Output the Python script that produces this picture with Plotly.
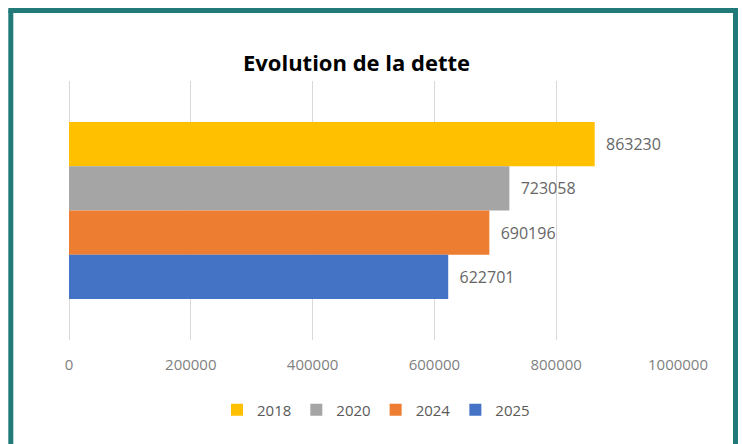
import plotly.graph_objects as go

series = ["2018", "2020", "2024", "2025"]
values = [863230, 723058, 690196, 622701]
colors = ["#FFC000", "#A5A5A5", "#ED7D31", "#4472C4"]
category = ["Dette"]
tick_vals = [0, 200000, 400000, 600000, 800000, 1000000]
tick_text = ["0", "200000", "400000", "600000", "800000", "1000000"]

fig = go.Figure()
for name, v, c in zip(series, values, colors):
    fig.add_trace(go.Bar(
        name=name, x=[v], y=category, orientation="h",
        marker=dict(color=c, line=dict(width=0)),
        text=["\u00a0\u00a0" + str(v)], textposition="outside",
        textfont=dict(family="Open Sans", size=16, color="#666666"),
        cliponaxis=False,
    ))

L, R, T, B = 69, 64, 81, 104
W, H = 742, 444
pw, ph = W - L - R, H - T - B

def px(x):
    return (x - L) / pw

def py(y):
    return (H - B - y) / ph

teal = "#217A78"
fig.add_shape(type="line", xref="paper", yref="paper", x0=px(10.8), x1=px(10.8), y0=py(460), y1=py(10.5),
              line=dict(color=teal, width=5), layer="above")
fig.add_shape(type="line", xref="paper", yref="paper", x0=px(735.5), x1=px(735.5), y0=py(460), y1=py(10.5),
              line=dict(color=teal, width=5), layer="above")
fig.add_shape(type="line", xref="paper", yref="paper", x0=px(8.3), x1=px(738), y0=py(10.5), y1=py(10.5),
              line=dict(color=teal, width=5), layer="above")

fig.update_layout(
    width=W, height=H,
    margin=dict(l=L, r=R, t=T, b=B),
    paper_bgcolor="white", plot_bgcolor="white",
    barmode="group", bargap=0.317, bargroupgap=0,
    title=dict(text="<b>Evolution de la dette</b>", x=px(356.5), xref="paper", xanchor="center",
               y=1 - 63 / H, yref="container", yanchor="middle",
               font=dict(family="Open Sans", size=22, color="#000000")),
    xaxis=dict(range=[0, 1000000], tickvals=tick_vals, ticktext=tick_text,
               showgrid=True, gridcolor="#D9D9D9", gridwidth=1,
               zeroline=True, zerolinecolor="#D9D9D9", zerolinewidth=1,
               showline=False, ticks="", ticklabelstandoff=14,
               tickfont=dict(family="Open Sans", size=15, color="#7F7F7F")),
    yaxis=dict(autorange="reversed", showticklabels=False, showgrid=False,
               zeroline=False, showline=False, ticks=""),
    legend=dict(orientation="h", x=px(376), xanchor="center", y=py(410), yanchor="middle",
                font=dict(family="Open Sans", size=15, color="#595959"),
                itemwidth=30,
                bgcolor="rgba(0,0,0,0)"),
    showlegend=True,
)

fig.write_html("out.html", config={"displayModeBar": False},
               post_script="document.body.style.margin='0';document.body.style.overflow='hidden';")
